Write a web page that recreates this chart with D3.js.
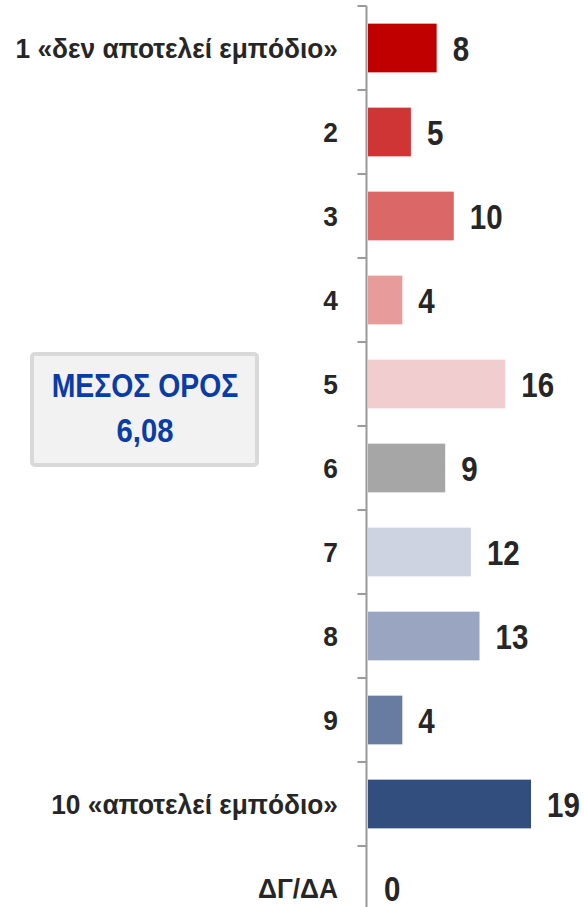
<!DOCTYPE html>
<html>
<head>
<meta charset="utf-8">
<script src="https://cdn.jsdelivr.net/npm/d3@7"></script>
<style>
  body { margin: 0; background: #fff; }
  text { font-family: "Liberation Sans", Arial, sans-serif; font-weight: bold; }
</style>
</head>
<body>
<div id="chart"></div>
<script>
// Chart size
const width = 584;
const height = 907;

// Data
const categories = ["1 «δεν αποτελεί εμπόδιο»", "2", "3", "4", "5", "6", "7", "8", "9", "10 «αποτελεί εμπόδιο»", "ΔΓ/ΔΑ"];
const values = [8, 5, 10, 4, 16, 9, 12, 13, 4, 19, 0];
const barColors = ["#c00000", "#d03535", "#db6767", "#e89b9b", "#f2cdcf", "#a6a6a6", "#cdd3e1", "#9aa6c1", "#687ba0", "#314e7f", "#314e7f"];
const meanLabel = "ΜΕΣΟΣ ΟΡΟΣ";
const meanValue = "6,08";

const svg = d3.select("#chart")
  .append("svg")
  .attr("width", width)
  .attr("height", height);

const axisX = 366.5;
const x = d3.scaleLinear().domain([0, 19]).range([368, 531]);
const y = d3.scaleBand().domain(categories).range([6, 6 + 84 * categories.length]).paddingInner(0.42).paddingOuter(0.21);

// narrow look: squeeze text horizontally
function narrowText(sel, sx) {
  return sel.attr("transform", d => `scale(${sx},1)`);
}

// Bars
svg.selectAll("rect.bar")
  .data(values)
  .enter()
  .append("rect")
  .attr("class", "bar")
  .attr("x", x(0))
  .attr("y", (d, i) => y(categories[i]))
  .attr("width", d => x(d) - x(0))
  .attr("height", y.bandwidth())
  .attr("fill", (d, i) => barColors[i]);

// Value labels
svg.selectAll("g.val")
  .data(values)
  .enter()
  .append("g")
  .attr("class", "val")
  .attr("transform", (d, i) => `translate(${x(d) + 16},${y(categories[i]) + y.bandwidth() / 2})`)
  .append("text")
  .attr("dy", "0.36em")
  .attr("font-size", 36)
  .attr("fill", "#262626")
  .call(narrowText, 0.82)
  .text(d => d);

// Category axis with ticks between bands
const axis = svg.append("g");
axis.append("line")
  .attr("x1", axisX).attr("x2", axisX)
  .attr("y1", 6).attr("y2", height)
  .attr("stroke", "#999")
  .attr("stroke-width", 2);

const step = y.step();
axis.selectAll("line.tick")
  .data(d3.range(categories.length + 1))
  .enter()
  .append("line")
  .attr("class", "tick")
  .attr("x1", axisX - 9).attr("x2", axisX)
  .attr("y1", i => 6 + i * step).attr("y2", i => 6 + i * step)
  .attr("stroke", "#999")
  .attr("stroke-width", 2);

axis.selectAll("g.cat")
  .data(categories)
  .enter()
  .append("g")
  .attr("class", "cat")
  .attr("transform", d => `translate(338,${y(d) + y.bandwidth() / 2})`)
  .append("text")
  .attr("dy", "0.36em")
  .attr("text-anchor", "end")
  .attr("font-size", 28)
  .attr("fill", "#262626")
  .call(narrowText, 0.94)
  .text(d => d);

// Mean box
const box = svg.append("g");
box.append("rect")
  .attr("x", 32).attr("y", 354)
  .attr("width", 225).attr("height", 111)
  .attr("rx", 3)
  .attr("fill", "#f2f2f2")
  .attr("stroke", "#d9d9d9")
  .attr("stroke-width", 4);
box.append("g")
  .attr("transform", "translate(145,397)")
  .append("text")
  .attr("text-anchor", "middle")
  .attr("font-size", 33)
  .attr("fill", "#0a3ca5")
  .call(narrowText, 0.86)
  .text(meanLabel);
box.append("g")
  .attr("transform", "translate(145,442)")
  .append("text")
  .attr("text-anchor", "middle")
  .attr("font-size", 34)
  .attr("fill", "#0a3ca5")
  .call(narrowText, 0.86)
  .text(meanValue);
</script>
</body>
</html>
